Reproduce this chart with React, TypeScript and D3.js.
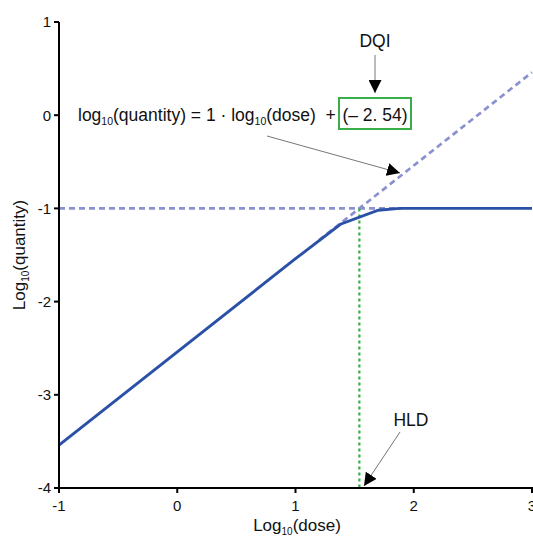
import React from "react";
import * as d3 from "d3";

const curveX = [-1, 1, 1.38, 1.7, 1.88, 3];
const curveY = [-3.54, -1.54, -1.17, -1.02, -1.0, -1.0];
const diagX = [1.2, 3];
const intercept = -2.54;
const plateau = -1;
const hldX = 1.54;
const xTicks = [-1, 0, 1, 2, 3];
const yTicks = [1, 0, -1, -2, -3, -4];

const W = 533, H = 538;
const font = "'Liberation Sans', Arial, sans-serif";

export default function App() {
  const x = d3.scaleLinear().domain([-1, 3]).range([59, 532]);
  const y = d3.scaleLinear().domain([-4, 1]).range([488, 22]);
  const line = d3.line<[number, number]>().x(d => x(d[0])).y(d => y(d[1]));
  const curve = line(curveX.map((v, i) => [v, curveY[i]]));
  const diag = line(diagX.map(v => [v, v + intercept]));
  const horiz = line([[-1, plateau], [1.9, plateau]]);
  const dashC = "#8a91d1";
  const fs = 17.5;
  return (
    <svg width={W} height={H} style={{ position: "absolute", left: 0, top: 0 }} fontFamily={font}>
      <defs>
        <marker id="ah2" viewBox="0 0 10 10" refX="10" refY="5" markerWidth="13" markerHeight="13" markerUnits="userSpaceOnUse" orient="auto">
          <path d="M0,0 L10,5 L0,10 z" fill="#000" />
        </marker>
      </defs>
      <path d={horiz!} stroke={dashC} strokeWidth={2.7} strokeDasharray="6,4" fill="none" />
      <path d={diag!} stroke={dashC} strokeWidth={2.7} strokeDasharray="6,4" fill="none" />
      <line x1={x(hldX)} x2={x(hldX)} y1={y(plateau)} y2={y(-4)} stroke="#3aae48" strokeWidth={2.2} strokeDasharray="3,3" />
      <path d={curve!} stroke="#2a50a8" strokeWidth={2.9} fill="none" />
      <line x1={x(-1)} x2={x(-1)} y1={y(1)} y2={y(-4) + 1} stroke="#000" strokeWidth={2} />
      <line x1={x(-1) - 1} x2={W} y1={y(-4)} y2={y(-4)} stroke="#000" strokeWidth={2} />
      {yTicks.map(t => (
        <g key={"y" + t}>
          <line x1={x(-1) - 5} x2={x(-1)} y1={y(t)} y2={y(t)} stroke="#000" strokeWidth={2} />
          <text x={x(-1) - 8} y={y(t)} dy="0.36em" textAnchor="end" fontSize={15} fill="#111">{t}</text>
        </g>
      ))}
      {xTicks.map(t => (
        <g key={"x" + t}>
          <line x1={x(t)} x2={x(t)} y1={y(-4)} y2={y(-4) + 5} stroke="#000" strokeWidth={2} />
          <text x={x(t)} y={y(-4) + 23} textAnchor="middle" fontSize={15} fill="#111">{t}</text>
        </g>
      ))}
      <text x={297} y={531} textAnchor="middle" fontSize={17} fill="#111">
        Log<tspan fontSize={10} dy={4}>10</tspan><tspan dy={-4}>(dose)</tspan>
      </text>
      <text transform={`translate(25,${255}) rotate(-90)`} textAnchor="middle" fontSize={17} fill="#111">
        Log<tspan fontSize={10} dy={4}>10</tspan><tspan dy={-4}>(quantity)</tspan>
      </text>
      <text x={78} y={121} fontSize={fs} fill="#111" style={{ whiteSpace: "pre" }}>
        log<tspan fontSize={10.5} dy={4}>10</tspan><tspan dy={-4}>(quantity) = 1 · log</tspan><tspan fontSize={10.5} dy={4}>10</tspan><tspan dy={-4}>{"(dose)  +"}</tspan>
      </text>
      <rect x={339} y={98} width={72} height={31} fill="none" stroke="#3aae48" strokeWidth={2} />
      <text x={375} y={121} textAnchor="middle" fontSize={fs} fill="#111">(– 2. 54)</text>
      <text x={375} y={47} textAnchor="middle" fontSize={fs} fill="#111">DQI</text>
      <line x1={375} y1={55} x2={375} y2={93} stroke="#777" strokeWidth={1} markerEnd="url(#ah2)" />
      <line x1={267} y1={136} x2={400} y2={173} stroke="#777" strokeWidth={1} markerEnd="url(#ah2)" />
      <text x={411} y={426} textAnchor="middle" fontSize={fs} fill="#111">HLD</text>
      <line x1={400} y1={432} x2={364} y2={486} stroke="#777" strokeWidth={1} markerEnd="url(#ah2)" />
    </svg>
  );
}
